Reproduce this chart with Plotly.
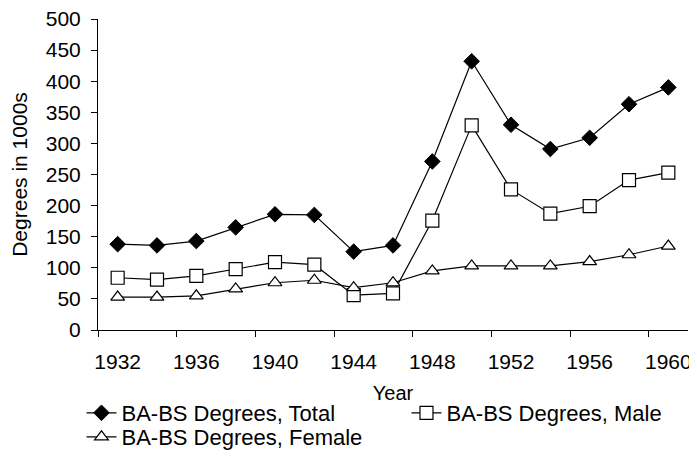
import plotly.graph_objects as go

years = [1932, 1934, 1936, 1938, 1940, 1942, 1944, 1946, 1948, 1950, 1952, 1954, 1956, 1958, 1960]
total = [138, 136, 143, 165, 186, 185, 126, 136, 271, 432, 330, 291, 309, 363, 390]
male = [84, 81, 87, 98, 109, 105, 56, 59, 176, 329, 226, 187, 199, 241, 253]
female = [53, 53, 55, 66, 76, 80, 68, 76, 95, 103, 103, 103, 110, 121, 135]
x_tick_labels = [1932, 1936, 1940, 1944, 1948, 1952, 1956, 1960]
x_boundaries = [1931, 1935, 1939, 1943, 1947, 1951, 1955, 1959]

font = "Liberation Sans, Arial, sans-serif"

fig = go.Figure()
fig.add_trace(go.Scatter(
    x=years, y=total, name="BA-BS Degrees, Total", mode="lines+markers",
    line=dict(color="black", width=1.2), legend="legend",
    marker=dict(symbol="diamond", size=12, color="black", line=dict(color="black", width=1)),
))
fig.add_trace(go.Scatter(
    x=years, y=male, name="BA-BS Degrees, Male", mode="lines+markers",
    line=dict(color="black", width=1.2), legend="legend",
    marker=dict(symbol="square", size=13, color="white", line=dict(color="black", width=1.2)),
))
fig.add_trace(go.Scatter(
    x=years, y=female, name="BA-BS Degrees, Female", mode="lines+markers",
    line=dict(color="black", width=1.2), legend="legend2",
    marker=dict(symbol="triangle-up", size=12, color="white", line=dict(color="black", width=1.2)),
))

legend_common = dict(
    orientation="h", xanchor="left", yanchor="middle",
    font=dict(size=22), itemwidth=30, tracegroupgap=0,
    bgcolor="rgba(0,0,0,0)",
)

# plot area: 90..680 x, 11..322 y (figure coords)
fig.update_layout(
    width=689, height=448,
    margin=dict(l=90, r=9, t=11, b=126, autoexpand=False),
    paper_bgcolor="white", plot_bgcolor="white",
    font=dict(family=font, size=20, color="black"),
    showlegend=True,
    legend=dict(x=-0.028, y=-0.267, entrywidth=280, entrywidthmode="pixels", **legend_common),
    legend2=dict(x=-0.028, y=-0.344, **legend_common),
)
fig.update_xaxes(
    range=[1931, 1961], tickmode="array", tickvals=x_tick_labels,
    ticks="", showgrid=False, zeroline=False,
    showline=True, linecolor="black", linewidth=1,
    tickfont=dict(size=21), ticklabelstandoff=13, ticklabeloverflow="allow",
    minor=dict(tickmode="array", tickvals=x_boundaries, ticks="outside", ticklen=6,
               tickcolor="black", tickwidth=1, showgrid=False),
    title=dict(text="Year", font=dict(size=20), standoff=13),
)
fig.update_yaxes(
    range=[0, 500], dtick=50, tick0=0,
    ticks="outside", ticklen=6, tickcolor="black", tickwidth=1,
    showgrid=False, zeroline=False,
    showline=True, linecolor="black", linewidth=1,
    tickfont=dict(size=21), ticklabelstandoff=6, ticklabeloverflow="allow",
    title=dict(text="Degrees in 1000s", font=dict(size=21), standoff=24),
)

fig.write_html("out.html")
